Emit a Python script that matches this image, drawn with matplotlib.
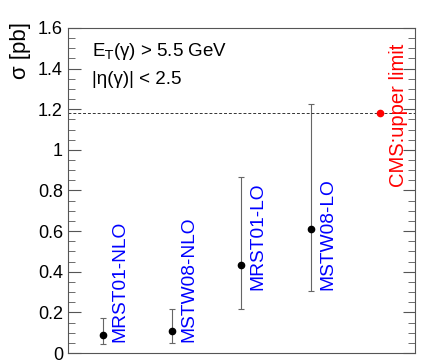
import matplotlib
matplotlib.use("Agg")
import matplotlib.pyplot as plt
from matplotlib.ticker import MultipleLocator, FuncFormatter
import numpy as np

plt.rcParams['font.family'] = ['Liberation Sans', 'DejaVu Sans']

# predictions
labels = ["MRST01-NLO", "MSTW08-NLO", "MRST01-LO", "MSTW08-LO"]
xpos = [0.5, 1.5, 2.5, 3.5]
sigma = [0.087, 0.110, 0.432, 0.612]
err_lo = [0.044, 0.059, 0.217, 0.305]
err_hi = [0.084, 0.108, 0.435, 0.615]
label_y = [0.055, 0.055, 0.31, 0.31]

# measurement
cms_x = 4.5
cms_limit = 1.18
cms_label = "CMS:upper limit"

fig = plt.figure(figsize=(4.24, 3.63), dpi=100)
ax = fig.add_axes([0.160, 0.0275, 0.819, 0.8955])

ax.errorbar(xpos, sigma, yerr=[err_lo, err_hi], fmt='o', color='black',
            ecolor='#666666', elinewidth=0.8, capsize=2, capthick=0.8,
            markersize=4.5)
for x, ly, lab in zip(xpos, label_y, labels):
    ax.text(x + 0.12, ly, lab, rotation=90, color='blue', fontsize=13.8,
            ha='left', va='bottom')

ax.axhline(cms_limit, color='#333333', lw=0.7, ls=(0, (3, 2)))
ax.plot([cms_x], [cms_limit], 'o', color='red', markersize=4.5)
ax.text(cms_x + 0.12, 0.815, cms_label, rotation=90, color='red', fontsize=14.5,
        ha='left', va='bottom')

ax.text(0.35, 1.46, "E$_\\mathrm{T}$(γ) > 5.5 GeV", fontsize=13.5, va='baseline')
ax.text(0.35, 1.325, "|η(γ)| < 2.5", fontsize=13.5, va='baseline')

ax.set_xlim(0, 5)
ax.set_ylim(0, 1.6)
ax.set_xticks([])
ax.yaxis.set_major_locator(MultipleLocator(0.2))
ax.yaxis.set_minor_locator(MultipleLocator(0.05))
ax.yaxis.set_major_formatter(FuncFormatter(lambda v, p: ('%g' % round(v, 2))))
ax.tick_params(axis='y', which='both', direction='in', right=True, labelsize=13,
               color='#555555')
ax.tick_params(axis='y', which='major', length=9)
ax.tick_params(axis='y', which='minor', length=5)
for s in ax.spines.values():
    s.set_color('#555555')
ax.set_ylabel("σ [pb]", fontsize=16)
ax.yaxis.set_label_coords(-0.105, 0.93)

fig.savefig("out.png", dpi=100)
